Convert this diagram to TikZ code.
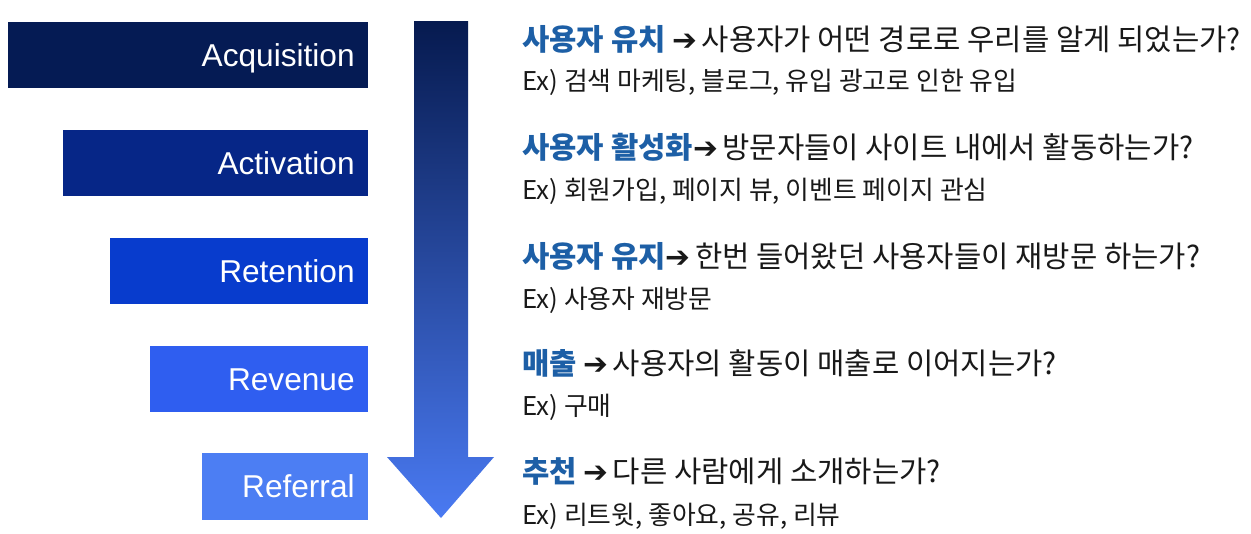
\documentclass[tikz,border=0pt]{standalone}
\usepackage{fontspec}
\setmainfont{Liberation Sans}
\newfontfamily\kr{Noto Sans CJK KR}
\newfontfamily\sym{DejaVu Sans}
\usetikzlibrary{positioning}
\definecolor{stageA}{HTML}{051B54}
\definecolor{stageB}{HTML}{062687}
\definecolor{stageC}{HTML}{083CCD}
\definecolor{stageD}{HTML}{2F5EF0}
\definecolor{stageE}{HTML}{4C7EF3}
\definecolor{keyblue}{HTML}{1D5FA6}
\definecolor{arrtop}{HTML}{061A4F}
\definecolor{arrmid}{HTML}{0A2A88}
\definecolor{arrbot}{HTML}{4A7AF2}
\newcommand{\pointer}{{\sym ➔}\hspace{0.15em}}

\begin{document}
\begin{tikzpicture}[x=0.02cm,y=-0.02cm,
  stage/.style={anchor=east,inner sep=0pt,minimum height=1.34cm},
  lbl/.style={text=white,inner sep=0pt,text height=12.8pt,text depth=0pt,
    font=\fontsize{18}{20}\selectfont},
  head/.style={anchor=base west,inner sep=0pt,text=black!90,
    font=\kr\fontsize{16.9}{18}\selectfont},
  ex/.style={anchor=base west,inner sep=0pt,text=black!90,
    font=\kr\fontsize{14.7}{16}\selectfont}]
\useasboundingbox (0,0) rectangle (1251,534);
\fill[white] (0,0) rectangle (1251,534);

% funnel stages
\node[stage,fill=stageA,minimum width=7.2cm] (acq) at (368,55) {};
\node[stage,fill=stageB,minimum width=6.1cm] (act) at (368,163) {};
\node[stage,fill=stageC,minimum width=5.16cm] (ret) at (368,271) {};
\node[stage,fill=stageD,minimum width=4.36cm] (rev) at (368,379) {};
\node[stage,fill=stageE,minimum width=3.32cm] (ref) at (368,486.5) {};
\node[lbl,left=0.26cm of acq.east] (acqtxt) {Acquisition};
\node[lbl,left=0.26cm of act.east] (acttxt) {Activation};
\node[lbl,left=0.26cm of ret.east] (rettxt) {Retention};
\node[lbl,left=0.26cm of rev.east] (revtxt) {Revenue};
\node[lbl,left=0.26cm of ref.east] (reftxt) {Referral};

% big arrow
\shade[top color=arrtop,middle color=arrmid,bottom color=arrbot]
  (414,21) -- (468,21) -- (468,457) -- (494,457) -- (441,518)
  -- (387,457) -- (414,457) -- cycle;

% descriptions
\node[head] (acqhead) at (522,50.2) {{\color{keyblue}\bfseries 사용자 유치} \pointer 사용자가 어떤 경로로 우리를 알게 되었는가?};
\node[ex] (acqex) at (522,90.7) {Ex) 검색 마케팅, 블로그, 유입 광고로 인한 유입};
\node[head] (acthead) at (522,158.2) {{\color{keyblue}\bfseries 사용자 활성화}\pointer 방문자들이 사이트 내에서 활동하는가?};
\node[ex] (actex) at (522,199.7) {Ex) 회원가입, 페이지 뷰, 이벤트 페이지 관심};
\node[head] (rethead) at (522,267.2) {{\color{keyblue}\bfseries 사용자 유지}\pointer 한번 들어왔던 사용자들이 재방문 하는가?};
\node[ex] (retex) at (522,308.7) {Ex) 사용자 재방문};
\node[head] (revhead) at (522,374.2) {{\color{keyblue}\bfseries 매출} \pointer 사용자의 활동이 매출로 이어지는가?};
\node[ex] (revex) at (522,415.7) {Ex) 구매};
\node[head] (refhead) at (522,482.2) {{\color{keyblue}\bfseries 추천} \pointer 다른 사람에게 소개하는가?};
\node[ex] (refex) at (522,524.7) {Ex) 리트윗, 좋아요, 공유, 리뷰};
\end{tikzpicture}
\end{document}
